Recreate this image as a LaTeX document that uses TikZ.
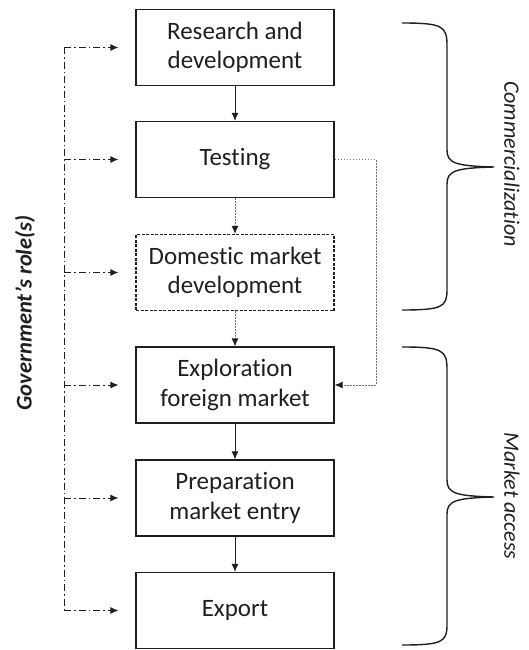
\documentclass[tikz,border=0pt]{standalone}
\usepackage{fontspec}
\setmainfont{Carlito}[Ligatures=NoCommon]
\usetikzlibrary{arrows.meta}
\definecolor{ink}{HTML}{1F1F1F}
\definecolor{dotc}{HTML}{6F6F6F}
\tikzset{
  stagebox/.style={draw=ink, line width=1.2pt, minimum width=198pt, minimum height=76pt,
    align=center, inner sep=0pt, font=\fontsize{25}{29.5}\selectfont, text=ink},
  flow/.style={draw=ink, line width=0.9pt, -{Latex[length=8pt,width=7pt]}},
  dflow/.style={draw=dotc, line width=0.9pt, dash pattern=on 1.5pt off 1.5pt, -{Latex[length=8pt,width=7pt,color=ink]}},
  govline/.style={draw=ink, line width=0.9pt, dash pattern=on 7pt off 3pt on 1.5pt off 3pt},
  govarrow/.style={govline, -{Latex[length=8pt,width=7pt]}},
  bracestyle/.style={draw=ink, line width=1.4pt},
  sidelabel/.style={font=\fontsize{22}{26}\selectfont\itshape, text=ink}
}
\begin{document}
\begin{tikzpicture}[x=1pt,y=-1pt]
\useasboundingbox (0,0) rectangle (528,650);
\node[stagebox] (rd) at (235,47.5) {Research and\\development};
\node[stagebox] (test) at (235,159.5) {Testing};
\node[stagebox, dash pattern=on 3pt off 1.5pt] (dom) at (235,272.5) {Domestic market\\development};
\node[stagebox] (expl) at (235,385) {Exploration\\foreign market};
\node[stagebox] (prep) at (235,498) {Preparation\\market entry};
\node[stagebox] (exp) at (235,610.5) {Export};

\draw[flow] (rd) -- (test);
\draw[dflow] (test) -- (dom);
\draw[dflow] (dom) -- (expl);
\draw[flow] (expl) -- (prep);
\draw[flow] (prep) -- (exp);

\coordinate (tj1) at (376,159.5);
\coordinate (tj2) at (376,385);
\draw[dflow] (test.east) -- (tj1) -- (tj2) -- (expl.east);

% government's role
\coordinate (gtop) at (64,47.5);
\coordinate (gbot) at (64,610.5);
\draw[govline] (gtop) -- (gbot);
\foreach \n in {rd,test,dom,expl,prep,exp}{
  \draw[govarrow] (64,0 |- \n.west) -- ([xshift=-17pt]\n.west);
}
\node[font=\fontsize{22.5}{26}\selectfont\bfseries\itshape, text=ink, rotate=90] (gov) at (25,313) {Government’s role(s)};

% braces
\draw[bracestyle] (402,23) .. controls (442,23) and (447,26) .. (447,45) -- (447,150)
  .. controls (447,163) and (455,166) .. (494,167)
  .. controls (455,168) and (447,171) .. (447,184) -- (447,290)
  .. controls (447,307) and (442,310) .. (402,310);
\draw[bracestyle] (402,347) .. controls (442,347) and (447,350) .. (447,369) -- (447,480)
  .. controls (447,493) and (455,496) .. (494,497)
  .. controls (455,498) and (447,501) .. (447,514) -- (447,625)
  .. controls (447,642) and (442,645) .. (402,645);
\node[sidelabel, rotate=-90] (comm) at (512,164) {Commercialization};
\node[sidelabel, rotate=-90] (mkt) at (512,496) {Market access};
\end{tikzpicture}
\end{document}
